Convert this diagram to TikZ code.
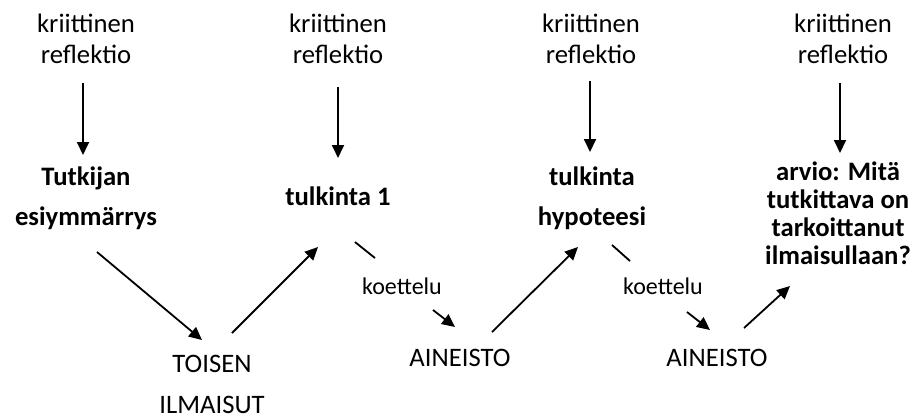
\documentclass[tikz,border=0pt]{standalone}
\usepackage{fontspec}
\setmainfont{Carlito}
\usetikzlibrary{arrows.meta}
\begin{document}
\begin{tikzpicture}[x=1pt,y=-1pt,
  every node/.style={inner sep=0pt, outer sep=0pt, anchor=base, align=center},
  reg/.style={font=\fontsize{26.67}{31}\selectfont},
  bld/.style={font=\fontsize{26.67}{40}\selectfont\bfseries},
  bldtight/.style={font=\fontsize{26.67}{28}\selectfont\bfseries},
  regwide/.style={font=\fontsize{26.67}{41}\selectfont},
  small/.style={font=\fontsize{24}{28}\selectfont},
  arr/.style={line width=1.8pt, -{Triangle[length=13pt,width=12pt]}},
  seg/.style={line width=1.8pt}]
\useasboundingbox (0,0) rectangle (913,416);
% top labels (base = last line)
\node[reg] (k1) at (86,63) {kriittinen\\reflektio};
\node[reg] (k2) at (338,63) {kriittinen\\reflektio};
\node[reg] (k3) at (591,63) {kriittinen\\reflektio};
\node[reg] (k4) at (843,63) {kriittinen\\reflektio};
% bold labels
\node[bld] (t1) at (86,225) {Tutkijan\\esiymmärrys};
\node[bld] (t2) at (338,205) {tulkinta 1};
\node[bld] (t3) at (592,225) {tulkinta\\hypoteesi};
\node[bldtight] (t4) at (838,264) {arvio: Mitä\\tutkittava on\\tarkoittanut\\ilmaisullaan?};
% bottom labels
\node[regwide] (o1) at (212,413) {TOISEN\\ILMAISUT};
\node[reg] (a1) at (460,366) {AINEISTO};
\node[reg] (a2) at (717,366) {AINEISTO};
\node[small] (c1) at (402,294) {koettelu};
\node[small] (c2) at (663,294) {koettelu};
% vertical arrows
\draw[arr] ([shift={(-3,20)}]k1.base) -- ([shift={(-3,-70)}]t1.base);
\draw[arr] ([shift={(0,24)}]k2.base) -- ([shift={(0,-47)}]t2.base);
\draw[arr] ([shift={(-1,18)}]k3.base) -- ([shift={(-2,-73)}]t3.base);
\draw[arr] ([shift={(-3,20)}]k4.base) -- ([shift={(2,-111)}]t4.base);
% diagonal arrows
\draw[arr] ([shift={(11,27)}]t1.base) -- ([shift={(-10,-73)}]o1.base);
\draw[arr] ([shift={(20,-80)}]o1.base) -- ([shift={(-20,42)}]t2.base);
\draw[seg] ([shift={(17,37)}]t2.base) -- ([shift={(-27,-36)}]c1.base);
\draw[arr] ([shift={(31,16)}]c1.base) -- ([shift={(-5,-39)}]a1.base);
\draw[arr] ([shift={(32,-34)}]a1.base) -- ([shift={(-14,22)}]t3.base);
\draw[seg] ([shift={(20,20)}]t3.base) -- ([shift={(-33,-33)}]c2.base);
\draw[arr] ([shift={(24,18)}]c2.base) -- ([shift={(-7,-36)}]a2.base);
\draw[arr] ([shift={(27,-38)}]a2.base) -- ([shift={(-48,22)}]t4.base);
\end{tikzpicture}
\end{document}
